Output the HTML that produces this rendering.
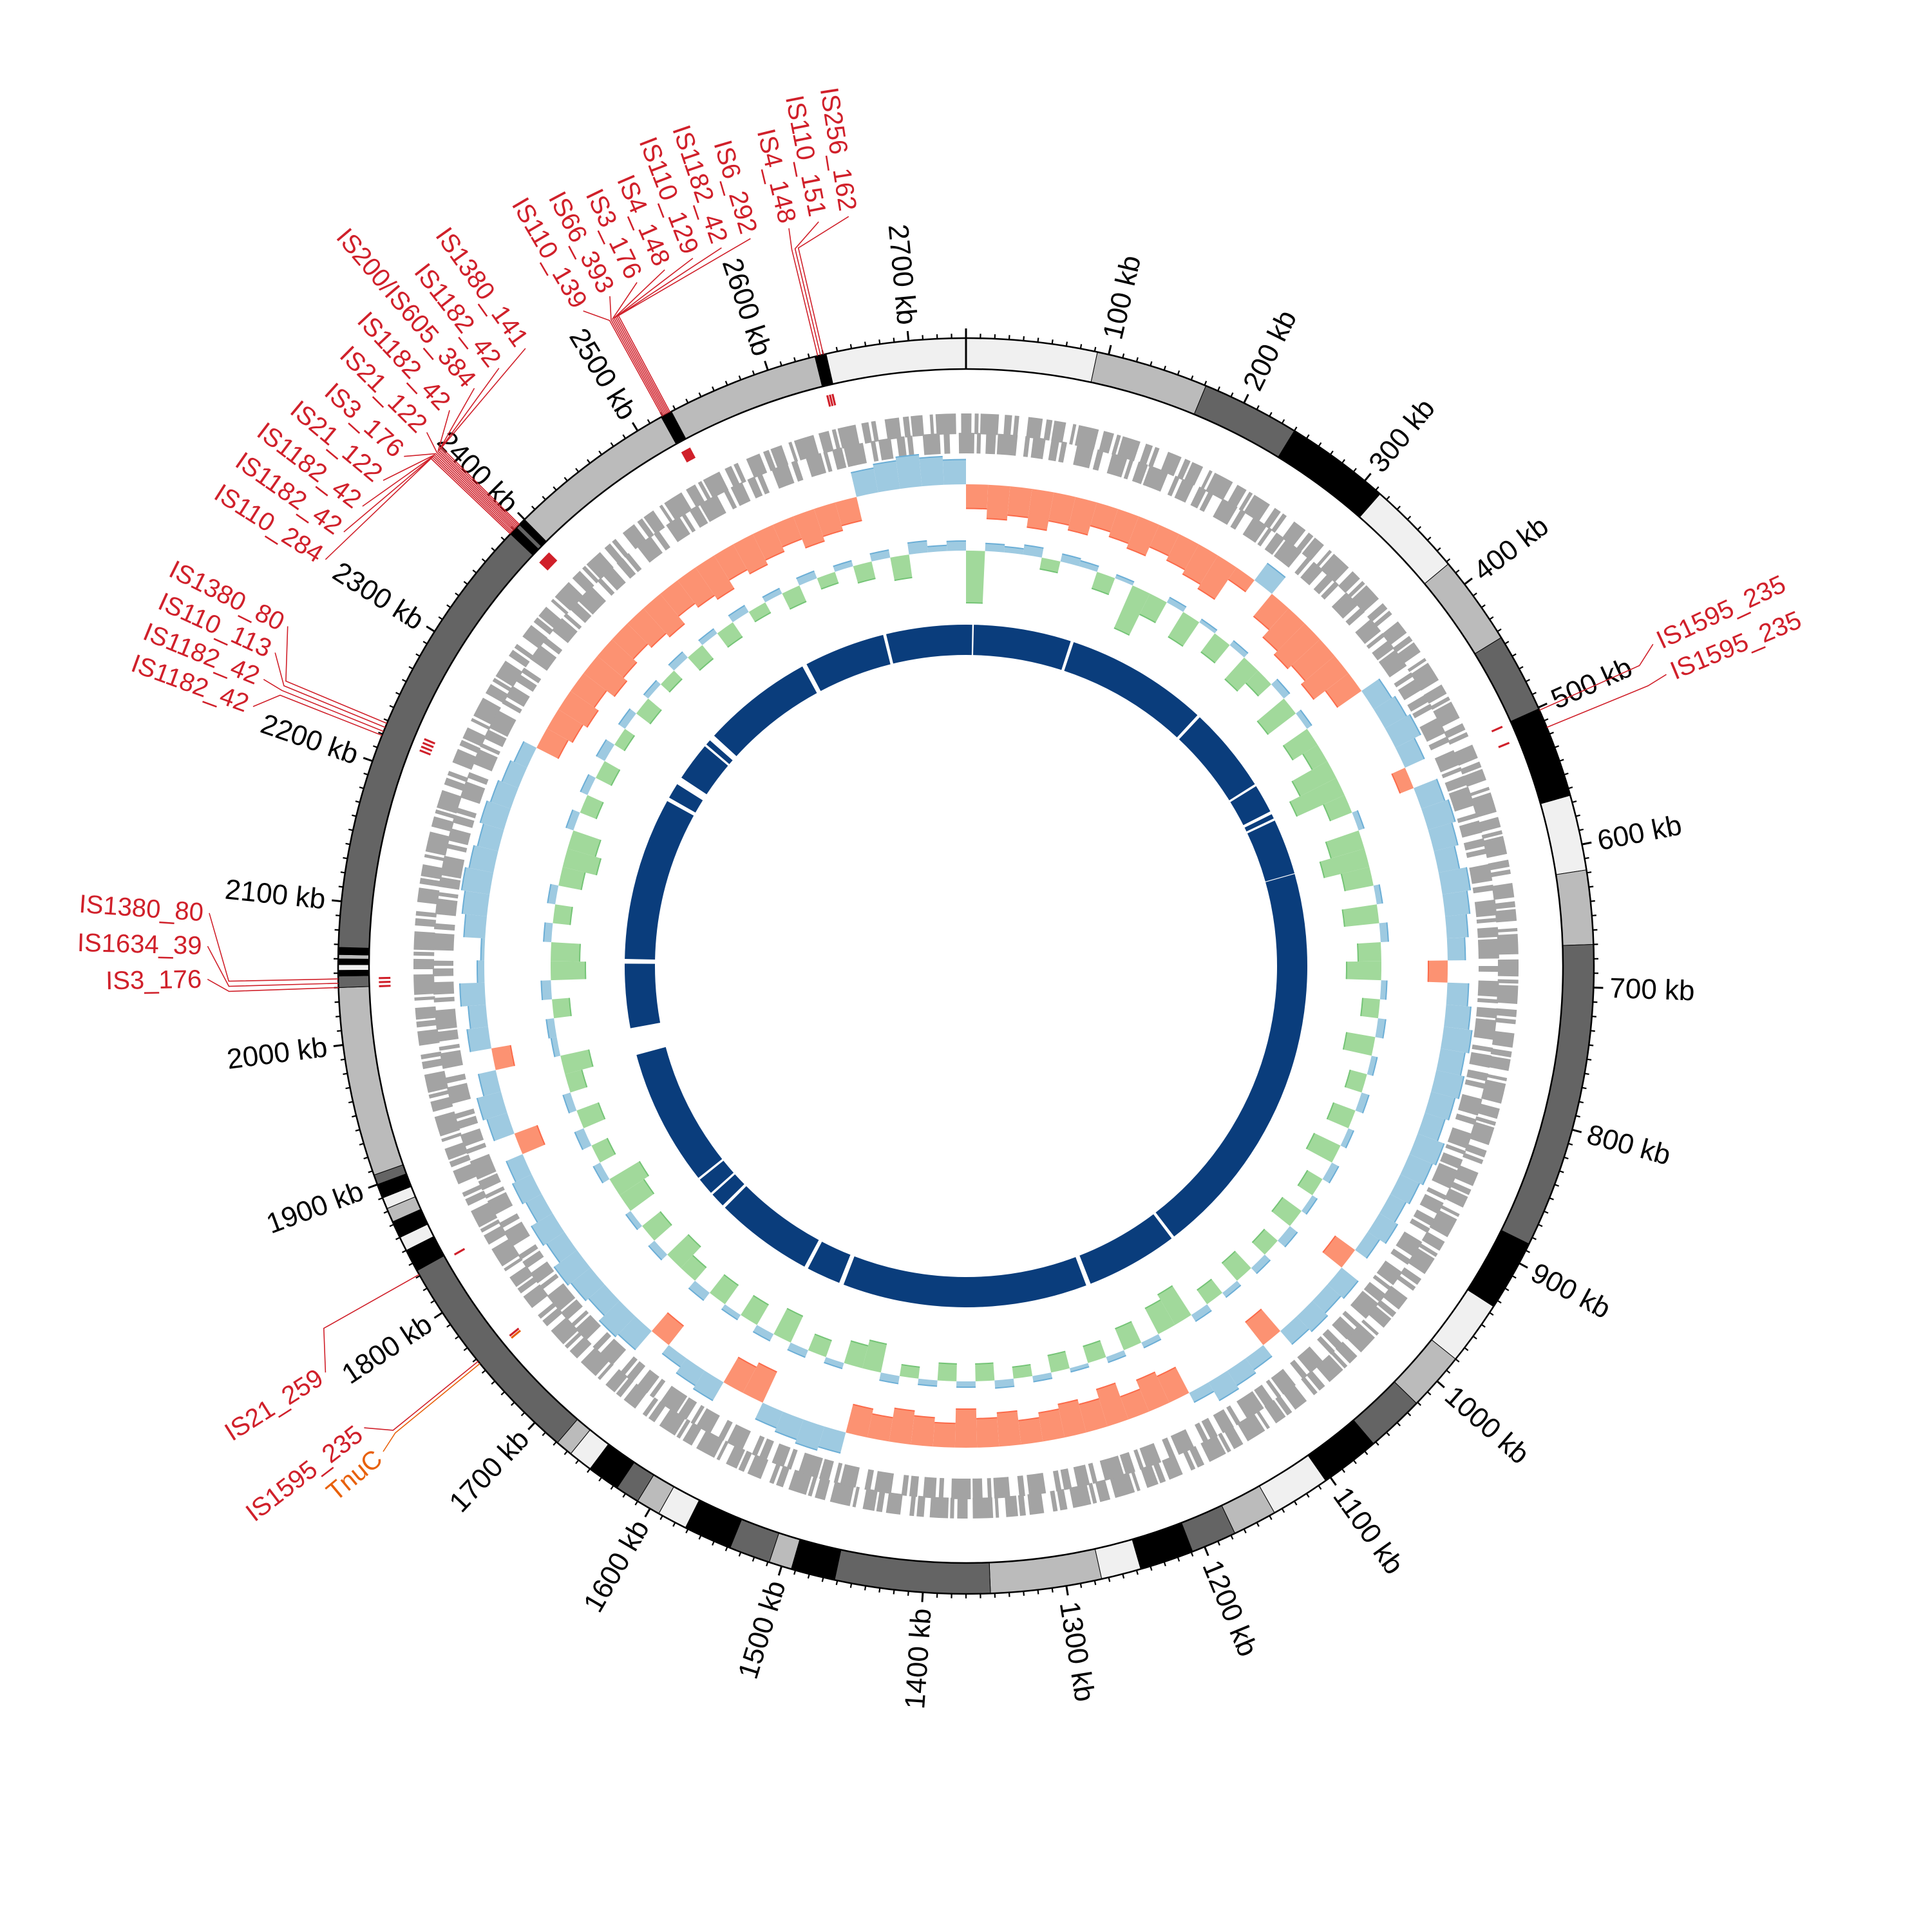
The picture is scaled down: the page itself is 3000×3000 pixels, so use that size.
<!DOCTYPE html>
<html><head><meta charset="utf-8"><style>
html,body{margin:0;padding:0;background:#fff;}
svg{display:block;}
text{font-family:"Liberation Sans",sans-serif;}
</style></head><body>
<svg id="chart" width="3000" height="3000" viewBox="0 0 3000 3000" xmlns="http://www.w3.org/2000/svg">
<rect width="3000" height="3000" fill="#fff"/>
<g id="gIdeo"></g>
<g id="gTicks"></g>
<g id="gGenes"></g>
<g id="gIS"></g>
<g id="gSkew"></g>
<g id="gGC"></g>
<g id="gInner"></g>
<g id="gLabels"></g>
</svg>
<script>
const GENOME_KB = 2740;
const bandStarts = [0,92,171,240,314,382,445,501,565,618,670,885,935,980,1021,1062,1104,1146,1177,1209,1247,1275,1353,1462,1493,1509,1538,1572,1593,1610,1627,1650,1667,1679,1834,1850,1860,1872,1882,1890,1900,1907,2040,2048,2052,2056,2060,2063,2068,2386,2392,2395,2400,2519,2527,2634,2642];
const bandEnds   = [92,171,240,314,382,445,501,565,618,670,885,935,980,1021,1062,1104,1146,1177,1209,1247,1275,1353,1462,1493,1509,1538,1572,1593,1610,1627,1650,1667,1679,1834,1850,1860,1872,1882,1890,1900,1907,2040,2048,2052,2056,2060,2063,2068,2386,2392,2395,2400,2519,2527,2634,2642,2740];
const bandShades = ["L","G","D","K","L","G","D","K","L","G","D","K","L","G","D","K","L","G","D","K","L","G","D","K","G","D","K","L","G","D","K","L","G","D","K","L","K","G","L","K","D","G","D","K","L","K","G","K","D","K","D","K","G","K","G","K","L"];
const tickLabelsKb = [100,200,300,400,500,600,700,800,900,1000,1100,1200,1300,1400,1500,1600,1700,1800,1900,2000,2100,2200,2300,2400,2500,2600,2700];
const BIN_KB = 20;
const skewValues = [-0.5,-0.7,-0.6,-0.8,-0.6,-0.7,-0.5,-0.6,-0.7,-0.5,-0.6,-0.7,-0.8,-0.3,
0.6,-0.6,-0.8,-0.9,-0.8,-0.9,-0.6,
0.6,0.7,0.8,0.6,-0.3,0.7,0.8,0.7,0.6,0.8,0.7,0.6,0.5,-0.4,0.6,0.7,0.8,0.7,0.8,0.7,0.6,0.8,0.7,0.6,0.5,0.6,0.4,-0.5,0.6,0.5,0.6,0.5,-0.6,0.4,0.5,0.6,0.3,
-0.6,-0.7,-0.5,-0.8,-0.6,-0.7,-0.6,-0.5,-0.7,-0.6,-0.8,-0.5,-0.6,-0.7,-0.5,-0.6,
0.6,0.7,0.6,0.5,
-0.7,-0.6,
0.6,0.5,0.3,-0.5,
0.7,0.8,0.6,0.7,0.8,0.6,0.7,0.5,0.6,0.5,
-0.5,
0.6,0.7,0.5,-0.4,
0.6,0.5,0.7,0.2,0.1,0.6,0.7,0.8,0.7,0.6,0.7,0.6,0.5,0.4,
-0.5,-0.6,-0.7,-0.6,-0.8,-0.7,-0.6,-0.7,-0.8,-0.6,-0.7,-0.8,-0.6,-0.7,-0.6,-0.5,-0.7,-0.6,-0.5,
0.7,0.8,0.9,0.8,0.7];
const gcValues = [-0.9,0.4,0.3,0.5,-0.2,0.4,0.3,-0.3,0.2,-0.8,-0.4,0.3,-0.5,0.2,-0.4,0.3,-0.5,-0.3,0.4,-0.6,0.3,-0.5,-0.3,-0.7,-0.9,-0.4,0.3,-0.6,-0.8,-0.5,0.3,-0.6,0.4,-0.4,-0.6,0.3,-0.3,0.4,-0.5,0.3,-0.3,0.4,-0.4,0.3,-0.5,0.4,-0.3,0.3,-0.4,0.5,-0.3,0.4,-0.4,0.3,-0.3,0.4,-0.6,-0.5,0.3,-0.4,0.3,-0.3,0.2,-0.3,0.3,-0.2,0.4,-0.3,0.3,-0.3,0.3,-0.2,0.4,-0.5,-0.4,0.3,-0.3,0.4,-0.5,0.4,-0.4,0.3,-0.4,0.5,-0.3,-0.5,0.4,-0.4,0.3,-0.5,-0.6,0.4,-0.3,0.5,-0.4,0.4,-0.3,-0.5,0.3,0.4,-0.3,0.5,-0.6,-0.5,0.4,-0.3,0.4,-0.4,-0.6,-0.5,0.4,-0.3,0.4,-0.3,0.5,-0.2,0.4,-0.3,0.3,-0.2,0.4,-0.3,0.3,-0.3,0.4,-0.2,0.3,-0.3,0.4,-0.2,0.3,-0.3,0.4,-0.4,0.6,0.3,0.5];
const innerGapStarts = [8,136,325,440,480,490,565,1084,1207,1530,1580,1712,1735,1760,1940,2058,2275,2300,2360,2370,2522,2633];
const innerGapWidths = [2,4,4,3,4,3,1,4,6,6,5,4,3,3,35,6,5,10,3,8,6,4];
const isNames = ["IS256_162","IS110_151","IS4_148","IS6_292","IS1182_42","IS110_129","IS4_148","IS3_176","IS66_393","IS110_139","IS1380_141","IS1182_42","IS200/IS605_384","IS1182_42","IS21_122","IS3_176","IS21_122","IS1182_42","IS1182_42","IS110_284","IS1380_80","IS110_113","IS1182_42","IS1182_42","IS1380_80","IS1634_39","IS3_176","IS1595_235","IS1595_235","IS21_259","IS1595_235","TnuC"];
const isTargetsKb = [2640,2638,2636,2526,2525,2524,2523,2522,2521,2520,2395,2394,2393,2392,2391,2390,2389,2388,2387,2386,2228,2225,2222,2219,2046,2043,2040,502,515,1831,1758,1756];
const isLabelAngles = [351.1,348.8,346.5,343.5,341.2,338.9,336.6,334.3,332.0,329.7,324.5,322.0,319.6,317.1,314.7,312.2,309.8,307.3,304.9,302.4,296.6,294.4,292.2,290.0,274.0,271.5,269.0,64.9,67.4,237.6,232.5,230.2];

const NS="http://www.w3.org/2000/svg", CX=1500, CY=1500;
const ang = kb => kb / GENOME_KB * 360;
function pt(deg,r){const a=deg*Math.PI/180;return [CX+r*Math.sin(a), CY-r*Math.cos(a)];}
function sector(r1,r2,a1,a2){
  const p1=pt(a1,r2),p2=pt(a2,r2),p3=pt(a2,r1),p4=pt(a1,r1);const lg=(a2-a1)>180?1:0;
  return `M${p1[0].toFixed(2)},${p1[1].toFixed(2)}A${r2},${r2} 0 ${lg} 1 ${p2[0].toFixed(2)},${p2[1].toFixed(2)}L${p3[0].toFixed(2)},${p3[1].toFixed(2)}A${r1},${r1} 0 ${lg} 0 ${p4[0].toFixed(2)},${p4[1].toFixed(2)}Z`;
}
function arcPath(r,a1,a2){const p1=pt(a1,r),p2=pt(a2,r);return `M${p1[0].toFixed(2)},${p1[1].toFixed(2)}A${r},${r} 0 0 1 ${p2[0].toFixed(2)},${p2[1].toFixed(2)}`;}
function mk(tag,attrs,parent){const e=document.createElementNS(NS,tag);for(const k in attrs)e.setAttribute(k,attrs[k]);parent.appendChild(e);return e;}
const shadeColor={L:"#f0f0f0",G:"#bbbbbb",D:"#646464",K:"#000000"};

const gI=document.getElementById('gIdeo');
const R_IO=975,R_II=927;
for(let i=0;i<bandStarts.length;i++){
  const p=mk('path',{d:sector(R_II,R_IO,ang(bandStarts[i]),ang(bandEnds[i])),fill:shadeColor[bandShades[i]],stroke:"#000","stroke-width":"1"},gI);
  
  
}
const oc=mk('circle',{cx:CX,cy:CY,r:R_IO,fill:"none",stroke:"#000","stroke-width":"2.5"},gI);


const ic=mk('circle',{cx:CX,cy:CY,r:R_II,fill:"none",stroke:"#000","stroke-width":"2.5"},gI);


const zl0=pt(0,R_II),zl1=pt(0,R_IO);
const zl=mk('line',{x1:zl0[0],y1:zl0[1],x2:zl1[0],y2:zl1[1],stroke:"#000","stroke-width":"3"},gI);



const gT=document.getElementById('gTicks');
for(let kb=0;kb<GENOME_KB;kb+=10){
  const major=kb%100===0;
  const a=pt(ang(kb),R_IO),b=pt(ang(kb),R_IO+(major?15:7));
  const t=mk('line',{x1:a[0],y1:a[1],x2:b[0],y2:b[1],stroke:"#000","stroke-width":major?"3":"2.2"},gT);
  
  
}
tickLabelsKb.forEach(kb=>{
  const th=ang(kb);const p=pt(th,1000);
  const right=th<180;const rot=right?th-90:th-270;
  const t=mk('text',{x:p[0],y:p[1],"font-size":"44","text-anchor":right?"start":"end","dominant-baseline":"central",transform:`rotate(${rot.toFixed(2)} ${p[0].toFixed(2)} ${p[1].toFixed(2)})`,fill:"#000"},gT);
  t.textContent=kb+" kb";
  
  
});

const gG=document.getElementById('gGenes');
const lanes=[[842,32,"16 5 6 3 28 9 11 4 7 14 22 6 9 3 18 11 5 4 31 8"],[812,32,"9 14 24 4 6 8 15 3 30 12 7 5 19 9 12 4 8 16 26 6"]];
lanes.forEach((l,i)=>{
  const c=mk('circle',{cx:CX,cy:CY,r:l[0],fill:"none",stroke:"#a3a3a3","stroke-width":l[1],"stroke-dasharray":l[2]},gG);
  
  
});

const gS=document.getElementById('gIS');
isTargetsKb.forEach((kb,i)=>{
  const a=ang(kb);
  const p=mk('path',{d:sector(894,912,a-0.1,a+0.1),fill:i===31?"#e8600a":"#d0202a"},gS);
  
  
});

function drawTrack(g,values,base,posScale,negScale,posFill,posLine,negFill,negLine,posName,negName){
  values.forEach((v,i)=>{
    const a1=ang(i*BIN_KB),a2=ang(Math.min((i+1)*BIN_KB,GENOME_KB));
    const pos=v>=0;const r=pos?base+v*posScale:base+v*negScale;
    const p=mk('path',{d:sector(Math.min(base,r),Math.max(base,r),a1,a2),fill:pos?posFill:negFill},g);
    
    
    const e=mk('path',{d:arcPath(r,a1,a2),fill:"none",stroke:pos?posLine:negLine,"stroke-width":"2"},g);
    
    
  });
}
drawTrack(document.getElementById('gSkew'),skewValues,748,55,75,"#9ecae1","#6baed6","#fc9272","#fb6a4a",'skew-bar-positive','skew-bar-negative');
drawTrack(document.getElementById('gGC'),gcValues,645,30,90,"#9ecae1","#6baed6","#a1d99b","#74c476",'gc-bar-above','gc-bar-below');

const gN=document.getElementById('gInner');
let cur=0;
const segs=[];
innerGapStarts.forEach((s,i)=>{segs.push([cur,s]);cur=s+innerGapWidths[i];});
segs.push([cur,GENOME_KB]);
segs.forEach(s=>{
  if(s[1]<=s[0])return;
  const p=mk('path',{d:sector(483,530,ang(s[0]),ang(s[1])),fill:"#0a3d7c"},gN);
  
  
});

const gL=document.getElementById('gLabels');
isNames.forEach((name,i)=>{
  const ta=ang(isTargetsKb[i]),la=isLabelAngles[i];
  const col=name==="TnuC"?"#e8600a":"#d0202a";
  const a=pt(ta,R_IO),b=pt(ta,1145),c=pt(la,1178);
  const pl=mk('polyline',{points:`${a[0].toFixed(1)},${a[1].toFixed(1)} ${b[0].toFixed(1)},${b[1].toFixed(1)} ${c[0].toFixed(1)},${c[1].toFixed(1)}`,fill:"none",stroke:col,"stroke-width":"1.6"},gL);
  
  
  const p=pt(la,1187);const right=la<180;const rot=right?la-90:la-270;
  const t=mk('text',{x:p[0],y:p[1],"font-size":"40","text-anchor":right?"start":"end","dominant-baseline":"central",transform:`rotate(${rot.toFixed(2)} ${p[0].toFixed(2)} ${p[1].toFixed(2)})`,fill:col},gL);
  t.textContent=name;
  
  
});
</script>
</body></html>
